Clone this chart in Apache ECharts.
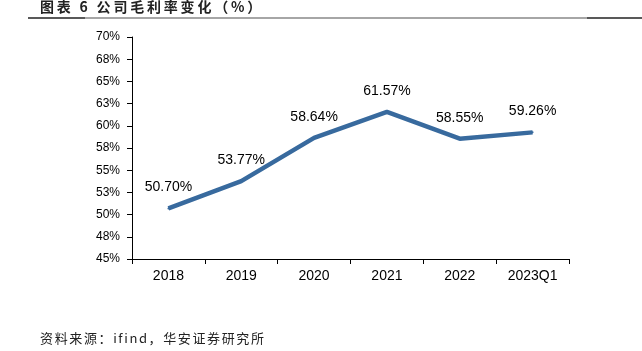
<!DOCTYPE html>
<html>
<head>
<meta charset="utf-8">
<script src="https://cdn.jsdelivr.net/npm/echarts@6/dist/echarts.min.js"></script>
<style>html,body{margin:0;padding:0;background:#fff;}#c{width:642px;height:351px;}</style>
</head>
<body>
<div id="c"></div>
<script>
var categories = ['2018', '2019', '2020', '2021', '2022', '2023Q1'];
var grossMargin = [50.70, 53.77, 58.64, 61.57, 58.55, 59.26];
var yTicks = [45, 47.5, 50, 52.5, 55, 57.5, 60, 62.5, 65, 67.5, 70];
var titleText = '图表 6 公司毛利率变化（%）';
var sourceText = '资料来源：ifind，华安证券研究所';

function spaced(s, sp) { return s.split('').join(sp); }

var chart = echarts.init(document.getElementById('c'), null, {renderer: 'canvas'});
chart.setOption({
  animation: false,
  backgroundColor: '#fff',
  grid: {left: 132, right: 73, top: 37, bottom: 92, containLabel: false},
  xAxis: {
    type: 'category',
    data: categories,
    boundaryGap: true,
    axisLine: {lineStyle: {color: '#000', width: 1}},
    axisTick: {show: true, length: 5, lineStyle: {color: '#000'}},
    axisLabel: {color: '#000', fontSize: 14, fontFamily: 'Liberation Sans', margin: 10}
  },
  yAxis: {
    type: 'value',
    min: yTicks[0],
    max: yTicks[yTicks.length - 1],
    interval: yTicks[1] - yTicks[0],
    axisLine: {show: true, lineStyle: {color: '#000', width: 1}},
    axisTick: {show: true, length: 5, lineStyle: {color: '#000'}},
    splitLine: {show: false},
    axisLabel: {
      color: '#000', fontSize: 12, fontFamily: 'Liberation Sans', margin: 12,
      formatter: function (v) { return Math.round(v) + '%'; }
    }
  },
  series: [{
    type: 'line',
    data: grossMargin,
    symbol: 'circle',
    symbolSize: 2,
    showSymbol: true,
    lineStyle: {color: '#386a9e', width: 4.5},
    itemStyle: {color: '#386a9e'},
    label: {
      show: true, position: 'top', distance: 13,
      color: '#000', fontSize: 14, fontFamily: 'Liberation Sans',
      formatter: function (p) { return p.value.toFixed(2) + '%'; }
    }
  }],
  graphic: [
    {type: 'text', left: 40, top: 0, style: {text: spaced(titleText, '\u2009'), fill: '#222', font: 'bold 14px "Noto Sans CJK SC"'}},
    {type: 'rect', shape: {x: 28, y: 17, width: 614, height: 2}, style: {fill: '#a6a6a6'}},
    {type: 'rect', shape: {x: 28, y: 17, width: 57, height: 2}, style: {fill: '#595959'}},
    {type: 'rect', shape: {x: 587, y: 17, width: 55, height: 2}, style: {fill: '#595959'}},
    {type: 'text', left: 40, top: 332, style: {text: spaced(sourceText, '\u200A\u200A'), fill: '#222', font: '13px "Noto Sans CJK SC"'}}
  ]
});
</script>
</body>
</html>
